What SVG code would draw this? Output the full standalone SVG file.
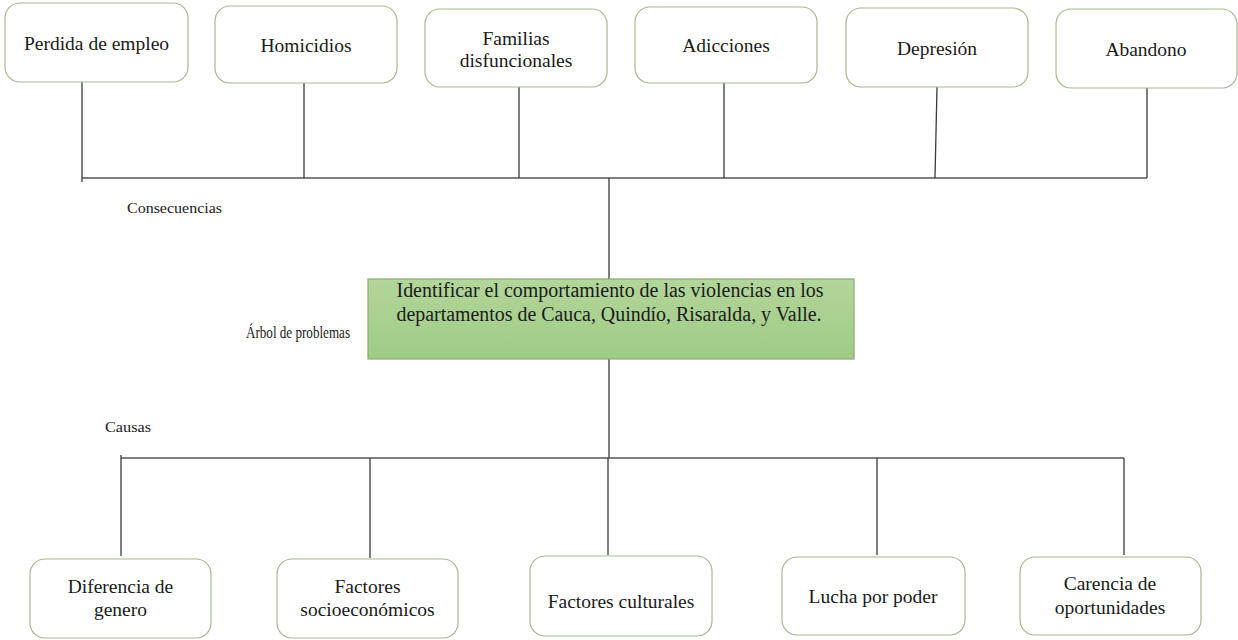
<svg xmlns="http://www.w3.org/2000/svg" width="1238" height="640" viewBox="0 0 1238 640">
<style>
.box{fill:#ffffff;stroke:#a3b98f;stroke-width:1.2}
.t{font-family:"Liberation Serif","Times New Roman",serif;font-size:19.5px;fill:#1a1a1a;text-anchor:middle}
.c{font-family:"Liberation Serif","Times New Roman",serif;font-size:20px;fill:#1a1a1a;text-anchor:middle}
.lbl{font-family:"Liberation Serif","Times New Roman",serif;font-size:15px;fill:#1a1a1a}
.ln{stroke:#3a3a3a;stroke-width:1.3;fill:none}
.hl{stroke:#555555;stroke-width:1.6;fill:none}
</style>
<defs>
<linearGradient id="gr" x1="0" y1="0" x2="0" y2="1">
<stop offset="0" stop-color="#b3d69a"/>
<stop offset="1" stop-color="#9fcb86"/>
</linearGradient>
</defs>
<rect width="1238" height="640" fill="#ffffff"/>

<g id="connectors">
<line class="hl" x1="82" y1="178" x2="1147" y2="178"/>
<line class="ln" x1="82" y1="82" x2="82" y2="182"/>
<line class="ln" x1="304" y1="83" x2="304" y2="178"/>
<line class="ln" x1="519" y1="87" x2="519" y2="178"/>
<line class="ln" x1="724" y1="83" x2="724" y2="178"/>
<line class="ln" x1="937" y1="87" x2="935" y2="178"/>
<line class="ln" x1="1147" y1="88" x2="1147" y2="178"/>
<line class="ln" x1="609" y1="178" x2="609" y2="280"/>
<line class="ln" x1="609" y1="359" x2="609" y2="458"/>
<line class="hl" x1="121" y1="458" x2="1124" y2="458"/>
<line class="ln" x1="121" y1="455" x2="121" y2="556"/>
<line class="ln" x1="370" y1="458" x2="370" y2="558"/>
<line class="ln" x1="608" y1="458" x2="608" y2="555"/>
<line class="ln" x1="877" y1="458" x2="877" y2="555"/>
<line class="ln" x1="1124" y1="458" x2="1124" y2="555"/>
</g>

<g id="n-perdida"><rect class="box" x="5" y="3" width="183" height="79" rx="15"/><text class="t" x="96.5" y="50">Perdida de empleo</text></g>
<g id="n-homicidios"><rect class="box" x="215" y="6" width="182" height="77" rx="15"/><text class="t" x="306" y="52">Homicidios</text></g>
<g id="n-familias"><rect class="box" x="425" y="9" width="182" height="78" rx="15"/><text class="t" x="516" y="45">Familias</text><text class="t" x="516" y="67">disfuncionales</text></g>
<g id="n-adicciones"><rect class="box" x="635" y="7" width="182" height="76" rx="15"/><text class="t" x="726" y="52">Adicciones</text></g>
<g id="n-depresion"><rect class="box" x="846" y="8" width="182" height="79" rx="15"/><text class="t" x="937" y="55">Depresión</text></g>
<g id="n-abandono"><rect class="box" x="1056" y="9" width="181" height="79" rx="15"/><text class="t" x="1146" y="56">Abandono</text></g>

<g id="l-consecuencias"><text class="lbl" x="127" y="213" textLength="95" lengthAdjust="spacingAndGlyphs">Consecuencias</text></g>
<g id="l-arbol"><text class="lbl" x="246" y="338" style="font-size:17px" textLength="104" lengthAdjust="spacingAndGlyphs">Árbol de problemas</text></g>
<g id="l-causas"><text class="lbl" x="105" y="432" textLength="46" lengthAdjust="spacingAndGlyphs">Causas</text></g>

<g id="n-central">
<rect x="368" y="279" width="486" height="80" fill="url(#gr)" stroke="#8aab74" stroke-width="1.2"/>
<text class="c" x="610" y="297" textLength="427" lengthAdjust="spacingAndGlyphs">Identificar el comportamiento de las violencias  en los</text>
<text class="c" x="609" y="321" textLength="425" lengthAdjust="spacingAndGlyphs">departamentos de Cauca, Quindío, Risaralda,  y Valle.</text>
</g>

<g id="n-diferencia"><rect class="box" x="30" y="559" width="181" height="79" rx="15"/><text class="t" x="120.5" y="593">Diferencia  de</text><text class="t" x="120.5" y="616">genero</text></g>
<g id="n-socio"><rect class="box" x="277" y="559" width="181" height="79" rx="15"/><text class="t" x="367.5" y="593">Factores</text><text class="t" x="367.5" y="616">socioeconómicos</text></g>
<g id="n-culturales"><rect class="box" x="530" y="556" width="182" height="80" rx="15"/><text class="t" x="621" y="608">Factores culturales</text></g>
<g id="n-lucha"><rect class="box" x="782" y="557" width="183" height="78" rx="15"/><text class="t" x="873" y="603">Lucha por poder</text></g>
<g id="n-carencia"><rect class="box" x="1020" y="557" width="181" height="78" rx="15"/><text class="t" x="1110" y="590">Carencia  de</text><text class="t" x="1110" y="614">oportunidades</text></g>
</svg>
